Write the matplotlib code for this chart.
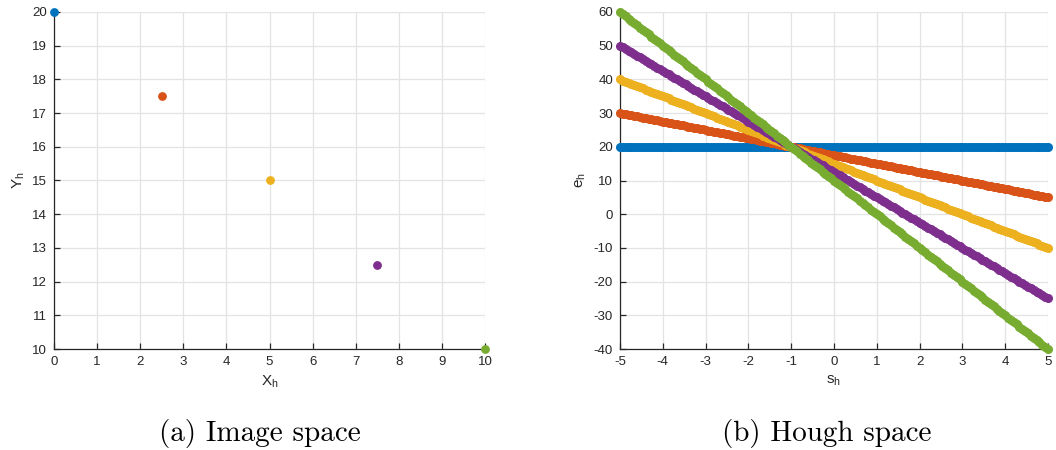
import numpy as np
import matplotlib
matplotlib.use('Agg')
import matplotlib.pyplot as plt

# image space points (X_h, Y_h)
x_img = [0, 2.5, 5, 7.5, 10]
y_img = [20, 17.5, 15, 12.5, 10]
colors = ['#0072BD', '#D95319', '#EDB120', '#7E2F8E', '#77AC30']

# hough space slope samples
s_vals = np.linspace(-5, 5, 151)

plt.rcParams['font.family'] = ['Liberation Sans', 'DejaVu Sans']
plt.rcParams['mathtext.default'] = 'regular'
plt.rcParams['axes.unicode_minus'] = False

fig = plt.figure(figsize=(10.56, 4.5), dpi=100)
ax1 = fig.add_axes([54/1056, 101/450, 431/1056, 337/450])
ax2 = fig.add_axes([620/1056, 101/450, 428/1056, 337/450])


def style(a):
    a.grid(True, color='#e3e3e3', linewidth=0.9)
    a.set_axisbelow(True)
    for sp in ['top', 'right']:
        a.spines[sp].set_visible(False)
    for sp in ['left', 'bottom']:
        a.spines[sp].set_color('#262626')
        a.spines[sp].set_linewidth(0.9)
    a.tick_params(direction='in', length=4, width=0.9, colors='#262626',
                  labelsize=9.5, pad=5)


for i in range(len(x_img)):
    ax1.plot(x_img[i], y_img[i], 'o', color=colors[i], markersize=5.3,
             clip_on=False, zorder=3)
ax1.set_xlim(0, 10)
ax1.set_ylim(10, 20)
ax1.set_xticks(range(0, 11))
ax1.set_yticks(range(10, 21))
ax1.set_xlabel('X$_h$', fontsize=11, color='#262626')
ax1.set_ylabel('Y$_h$', fontsize=11, color='#262626')
style(ax1)

for i in range(len(x_img)):
    e_vals = y_img[i] - x_img[i] * s_vals
    ax2.plot(s_vals, e_vals, 'o', color=colors[i], markersize=5.5,
             clip_on=False, zorder=3)
ax2.set_xlim(-5, 5)
ax2.set_ylim(-40, 60)
ax2.set_xticks(range(-5, 6))
ax2.set_yticks(range(-40, 61, 10))
ax2.set_xlabel('s$_h$', fontsize=11, color='#262626')
ax2.set_ylabel('e$_h$', fontsize=11, color='#262626')
style(ax2)

fig.text(260/1056, 1 - 433/450, '(a) Image space', fontfamily='cmr10',
         fontsize=21, ha='center', va='center')
fig.text(827/1056, 1 - 433/450, '(b) Hough space', fontfamily='cmr10',
         fontsize=21, ha='center', va='center')

fig.savefig('out.png', dpi=100)
